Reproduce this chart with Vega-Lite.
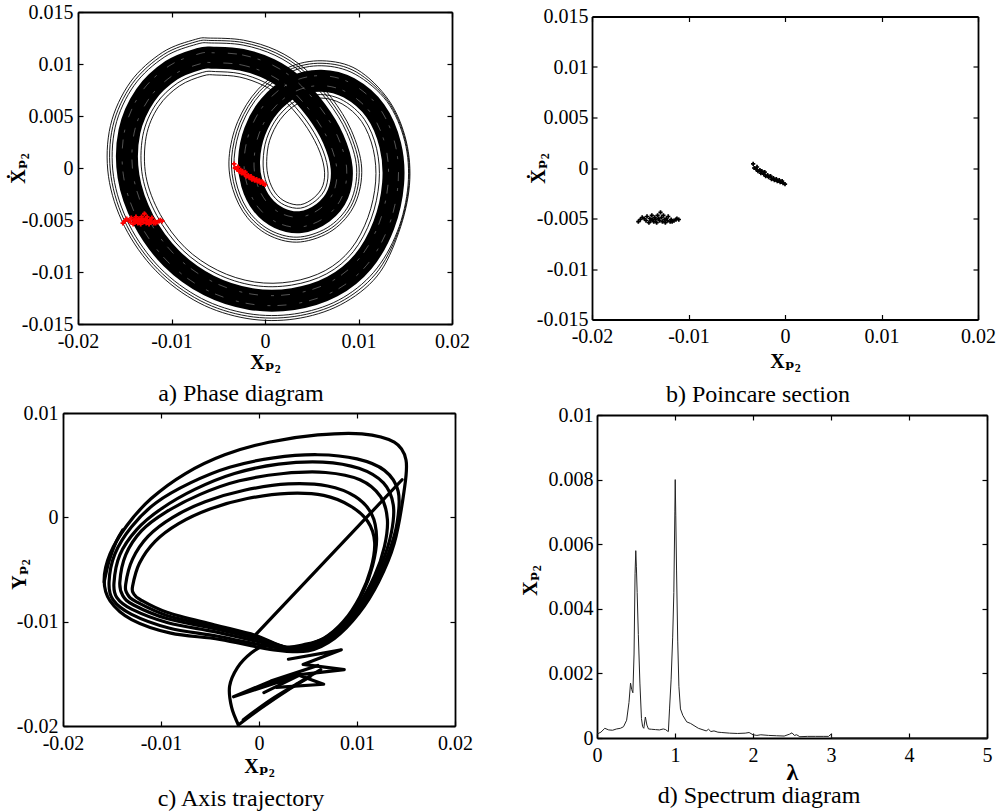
{
  "$schema": "https://vega.github.io/schema/vega-lite/v6.json",
  "autosize": {"type": "none"},
  "padding": {"left": 63, "top": 12, "right": 943, "bottom": 799},
  "background": "white",
  "bounds": "full",
  "spacing": -4,
  "config": {
    "font": "Liberation Serif",
    "view": {"stroke": null},
    "axis": {
      "grid": false,
      "domainColor": "#000",
      "domainWidth": 1.8,
      "tickColor": "#000",
      "tickWidth": 1.2,
      "tickSize": -5,
      "labelFont": "Liberation Serif",
      "labelFontSize": 20,
      "labelColor": "#000",
      "labelFlush": false,
      "labelOverlap": false,
      "labelBound": false,
      "labelPadding": 12,
      "titleFont": "Liberation Serif, DejaVu Serif",
      "titleFontSize": 20,
      "titleFontWeight": "bold",
      "titleColor": "#000"
    },
    "title": {"font": "Liberation Serif", "fontSize": 24, "fontWeight": "normal", "color": "#000"}
  },
  "datasets": {
    "phase": [
      {"s":"core","i":1,"x":-0.0055,"y":0.0106},{"s":"core","i":2,"x":-0.0025,"y":0.0104},{"s":"core","i":3,"x":0.0005,"y":0.0095},{"s":"core","i":4,"x":0.003,"y":0.008},{"s":"core","i":5,"x":0.0055,"y":0.0055},{"s":"core","i":6,"x":0.0073,"y":0.0028},{"s":"core","i":7,"x":0.0082,"y":0},{"s":"core","i":8,"x":0.0078,"y":-0.0025},{"s":"core","i":9,"x":0.0062,"y":-0.0043},{"s":"core","i":10,"x":0.0038,"y":-0.0052},{"s":"core","i":11,"x":0.0015,"y":-0.0048},{"s":"core","i":12,"x":-0.0003,"y":-0.0035},{"s":"core","i":13,"x":-0.0014,"y":-0.0015},{"s":"core","i":14,"x":-0.0017,"y":0.0008},{"s":"core","i":15,"x":-0.0011,"y":0.0035},{"s":"core","i":16,"x":0.0005,"y":0.006},{"s":"core","i":17,"x":0.003,"y":0.0078},{"s":"core","i":18,"x":0.006,"y":0.0084},{"s":"core","i":19,"x":0.009,"y":0.0077},{"s":"core","i":20,"x":0.0118,"y":0.0055},{"s":"core","i":21,"x":0.0134,"y":0.0022},{"s":"core","i":22,"x":0.0137,"y":-0.0015},{"s":"core","i":23,"x":0.0127,"y":-0.0055},{"s":"core","i":24,"x":0.0105,"y":-0.009},{"s":"core","i":25,"x":0.0072,"y":-0.0114},{"s":"core","i":26,"x":0.003,"y":-0.0126},{"s":"core","i":27,"x":-0.0015,"y":-0.0126},{"s":"core","i":28,"x":-0.006,"y":-0.0113},{"s":"core","i":29,"x":-0.01,"y":-0.0087},{"s":"core","i":30,"x":-0.013,"y":-0.005},{"s":"core","i":31,"x":-0.0146,"y":-0.0008},{"s":"core","i":32,"x":-0.0145,"y":0.0035},{"s":"core","i":33,"x":-0.0128,"y":0.007},{"s":"core","i":34,"x":-0.01,"y":0.0094},{"s":"core","i":35,"x":-0.007,"y":0.0105},
      {"s":"o1","i":1,"x":-0.00574,"y":0.01202},{"s":"o1","i":2,"x":-0.00234,"y":0.01182},{"s":"o1","i":3,"x":0.00106,"y":0.01084},{"s":"o1","i":4,"x":0.00396,"y":0.00914},{"s":"o1","i":5,"x":0.0067,"y":0.00644},{"s":"o1","i":6,"x":0.00874,"y":0.00341},{"s":"o1","i":7,"x":0.0098,"y":0},{"s":"o1","i":8,"x":0.00916,"y":-0.00322},{"s":"o1","i":9,"x":0.007,"y":-0.00554},{"s":"o1","i":10,"x":0.0038,"y":-0.00663},{"s":"o1","i":11,"x":0.00086,"y":-0.00612},{"s":"o1","i":12,"x":-0.0015,"y":-0.00444},{"s":"o1","i":13,"x":-0.00292,"y":-0.00193},{"s":"o1","i":14,"x":-0.0033,"y":0.00094},{"s":"o1","i":15,"x":-0.00246,"y":0.00422},{"s":"o1","i":16,"x":-0.00046,"y":0.00714},{"s":"o1","i":17,"x":0.0026,"y":0.00919},{"s":"o1","i":18,"x":0.00608,"y":0.00983},{"s":"o1","i":19,"x":0.00964,"y":0.00902},{"s":"o1","i":20,"x":0.01305,"y":0.00639},{"s":"o1","i":21,"x":0.01495,"y":0.00256},{"s":"o1","i":22,"x":0.0153,"y":-0.00164},{"s":"o1","i":23,"x":0.01414,"y":-0.00614},{"s":"o1","i":24,"x":0.01162,"y":-0.01003},{"s":"o1","i":25,"x":0.00784,"y":-0.01272},{"s":"o1","i":26,"x":0.00316,"y":-0.01403},{"s":"o1","i":27,"x":-0.00182,"y":-0.014},{"s":"o1","i":28,"x":-0.0068,"y":-0.01254},{"s":"o1","i":29,"x":-0.01125,"y":-0.00959},{"s":"o1","i":30,"x":-0.01452,"y":-0.00546},{"s":"o1","i":31,"x":-0.0162,"y":-0.0008},{"s":"o1","i":32,"x":-0.01602,"y":0.00393},{"s":"o1","i":33,"x":-0.014,"y":0.00794},{"s":"o1","i":34,"x":-0.01072,"y":0.01069},{"s":"o1","i":35,"x":-0.00732,"y":0.0119},
      {"s":"m","i":1,"x":-0.00578,"y":0.01226},{"s":"m","i":2,"x":-0.00232,"y":0.01206},{"s":"m","i":3,"x":0.00116,"y":0.01107},{"s":"m","i":4,"x":0.00412,"y":0.00934},{"s":"m","i":5,"x":0.0069,"y":0.0066},{"s":"m","i":6,"x":0.00899,"y":0.00352},{"s":"m","i":7,"x":0.01007,"y":0},{"s":"m","i":8,"x":0.00939,"y":-0.00334},{"s":"m","i":9,"x":0.00714,"y":-0.00575},{"s":"m","i":10,"x":0.0038,"y":-0.00687},{"s":"m","i":11,"x":0.00075,"y":-0.00634},{"s":"m","i":12,"x":-0.0017,"y":-0.0046},{"s":"m","i":13,"x":-0.00318,"y":-0.002},{"s":"m","i":14,"x":-0.00357,"y":0.00097},{"s":"m","i":15,"x":-0.00269,"y":0.00434},{"s":"m","i":16,"x":-0.00062,"y":0.00734},{"s":"m","i":17,"x":0.00253,"y":0.00942},{"s":"m","i":18,"x":0.0061,"y":0.01007},{"s":"m","i":19,"x":0.00975,"y":0.00924},{"s":"m","i":20,"x":0.01315,"y":0.00645},{"s":"m","i":21,"x":0.01503,"y":0.00258},{"s":"m","i":22,"x":0.01538,"y":-0.00165},{"s":"m","i":23,"x":0.01422,"y":-0.00617},{"s":"m","i":24,"x":0.01181,"y":-0.0102},{"s":"m","i":25,"x":0.00795,"y":-0.01294},{"s":"m","i":26,"x":0.00319,"y":-0.01427},{"s":"m","i":27,"x":-0.00188,"y":-0.01424},{"s":"m","i":28,"x":-0.00694,"y":-0.01275},{"s":"m","i":29,"x":-0.01146,"y":-0.00974},{"s":"m","i":30,"x":-0.01478,"y":-0.00554},{"s":"m","i":31,"x":-0.01647,"y":-0.0008},{"s":"m","i":32,"x":-0.01628,"y":0.004},{"s":"m","i":33,"x":-0.0142,"y":0.0081},{"s":"m","i":34,"x":-0.01084,"y":0.01091},{"s":"m","i":35,"x":-0.00738,"y":0.01214},
      {"s":"o2","i":1,"x":-0.00582,"y":0.01249},{"s":"o2","i":2,"x":-0.00229,"y":0.01229},{"s":"o2","i":3,"x":0.00125,"y":0.0113},{"s":"o2","i":4,"x":0.00428,"y":0.00953},{"s":"o2","i":5,"x":0.0071,"y":0.00676},{"s":"o2","i":6,"x":0.00923,"y":0.00362},{"s":"o2","i":7,"x":0.01034,"y":0},{"s":"o2","i":8,"x":0.00962,"y":-0.00346},{"s":"o2","i":9,"x":0.00727,"y":-0.00596},{"s":"o2","i":10,"x":0.0038,"y":-0.00711},{"s":"o2","i":11,"x":0.00064,"y":-0.00656},{"s":"o2","i":12,"x":-0.0019,"y":-0.00476},{"s":"o2","i":13,"x":-0.00343,"y":-0.00207},{"s":"o2","i":14,"x":-0.00384,"y":0.00099},{"s":"o2","i":15,"x":-0.00292,"y":0.00446},{"s":"o2","i":16,"x":-0.00078,"y":0.00753},{"s":"o2","i":17,"x":0.00246,"y":0.00965},{"s":"o2","i":18,"x":0.00611,"y":0.01031},{"s":"o2","i":19,"x":0.00986,"y":0.00946},{"s":"o2","i":20,"x":0.01325,"y":0.0065},{"s":"o2","i":21,"x":0.0151,"y":0.0026},{"s":"o2","i":22,"x":0.01545,"y":-0.00166},{"s":"o2","i":23,"x":0.0143,"y":-0.0062},{"s":"o2","i":24,"x":0.012,"y":-0.01038},{"s":"o2","i":25,"x":0.00806,"y":-0.01316},{"s":"o2","i":26,"x":0.00321,"y":-0.01451},{"s":"o2","i":27,"x":-0.00193,"y":-0.01447},{"s":"o2","i":28,"x":-0.00707,"y":-0.01296},{"s":"o2","i":29,"x":-0.01167,"y":-0.00988},{"s":"o2","i":30,"x":-0.01503,"y":-0.00561},{"s":"o2","i":31,"x":-0.01674,"y":-0.0008},{"s":"o2","i":32,"x":-0.01653,"y":0.00407},{"s":"o2","i":33,"x":-0.0144,"y":0.00826},{"s":"o2","i":34,"x":-0.01096,"y":0.01112},{"s":"o2","i":35,"x":-0.00743,"y":0.01237},
      {"s":"i1","i":1,"x":-0.00528,"y":0.00927},{"s":"i1","i":2,"x":-0.00265,"y":0.00907},{"s":"i1","i":3,"x":-0.00003,"y":0.00824},{"s":"i1","i":4,"x":0.0021,"y":0.00693},{"s":"i1","i":5,"x":0.00437,"y":0.00462},{"s":"i1","i":6,"x":0.00595,"y":0.00222},{"s":"i1","i":7,"x":0.0067,"y":0},{"s":"i1","i":8,"x":0.00652,"y":-0.00183},{"s":"i1","i":9,"x":0.00545,"y":-0.00313},{"s":"i1","i":10,"x":0.0038,"y":-0.00386},{"s":"i1","i":11,"x":0.0021,"y":-0.00357},{"s":"i1","i":12,"x":0.00083,"y":-0.00262},{"s":"i1","i":13,"x":0.00003,"y":-0.0011},{"s":"i1","i":14,"x":-0.0002,"y":0.00067},{"s":"i1","i":15,"x":0.00018,"y":0.00283},{"s":"i1","i":16,"x":0.0014,"y":0.00493},{"s":"i1","i":17,"x":0.00338,"y":0.0065},{"s":"i1","i":18,"x":0.00592,"y":0.00706},{"s":"i1","i":19,"x":0.0084,"y":0.00647},{"s":"i1","i":20,"x":0.01063,"y":0.00467},{"s":"i1","i":21,"x":0.01194,"y":0.00186},{"s":"i1","i":22,"x":0.0122,"y":-0.00137},{"s":"i1","i":23,"x":0.01135,"y":-0.0049},{"s":"i1","i":24,"x":0.00945,"y":-0.00804},{"s":"i1","i":25,"x":0.0066,"y":-0.01017},{"s":"i1","i":26,"x":0.00285,"y":-0.01126},{"s":"i1","i":27,"x":-0.0012,"y":-0.01129},{"s":"i1","i":28,"x":-0.00525,"y":-0.01013},{"s":"i1","i":29,"x":-0.00883,"y":-0.00787},{"s":"i1","i":30,"x":-0.01157,"y":-0.00457},{"s":"i1","i":31,"x":-0.0131,"y":-0.0008},{"s":"i1","i":32,"x":-0.01307,"y":0.0031},{"s":"i1","i":33,"x":-0.01167,"y":0.00612},{"s":"i1","i":34,"x":-0.00932,"y":0.00819},{"s":"i1","i":35,"x":-0.0067,"y":0.00919},
      {"s":"i2","i":1,"x":-0.00523,"y":0.00894},{"s":"i2","i":2,"x":-0.00269,"y":0.00874},{"s":"i2","i":3,"x":-0.00016,"y":0.00793},{"s":"i2","i":4,"x":0.00188,"y":0.00666},{"s":"i2","i":5,"x":0.00409,"y":0.0044},{"s":"i2","i":6,"x":0.00561,"y":0.00208},{"s":"i2","i":7,"x":0.00633,"y":0},{"s":"i2","i":8,"x":0.0062,"y":-0.00166},{"s":"i2","i":9,"x":0.00526,"y":-0.00284},{"s":"i2","i":10,"x":0.0038,"y":-0.00353},{"s":"i2","i":11,"x":0.00225,"y":-0.00326},{"s":"i2","i":12,"x":0.00111,"y":-0.0024},{"s":"i2","i":13,"x":0.00039,"y":-0.001},{"s":"i2","i":14,"x":0.00018,"y":0.00064},{"s":"i2","i":15,"x":0.0005,"y":0.00266},{"s":"i2","i":16,"x":0.00163,"y":0.00466},{"s":"i2","i":17,"x":0.00348,"y":0.00618},{"s":"i2","i":18,"x":0.0059,"y":0.00673},{"s":"i2","i":19,"x":0.00825,"y":0.00616},{"s":"i2","i":20,"x":0.01034,"y":0.00446},{"s":"i2","i":21,"x":0.01158,"y":0.00178},{"s":"i2","i":22,"x":0.01183,"y":-0.00134},{"s":"i2","i":23,"x":0.01101,"y":-0.00475},{"s":"i2","i":24,"x":0.00919,"y":-0.0078},{"s":"i2","i":25,"x":0.00645,"y":-0.00986},{"s":"i2","i":26,"x":0.00281,"y":-0.01093},{"s":"i2","i":27,"x":-0.00113,"y":-0.01096},{"s":"i2","i":28,"x":-0.00506,"y":-0.00984},{"s":"i2","i":29,"x":-0.00854,"y":-0.00766},{"s":"i2","i":30,"x":-0.01121,"y":-0.00446},{"s":"i2","i":31,"x":-0.01273,"y":-0.0008},{"s":"i2","i":32,"x":-0.01271,"y":0.003},{"s":"i2","i":33,"x":-0.01139,"y":0.0059},{"s":"i2","i":34,"x":-0.00915,"y":0.00789},{"s":"i2","i":35,"x":-0.00663,"y":0.00886},
      {"s":"w1","i":1,"x":-0.00558,"y":0.01108},{"s":"w1","i":2,"x":-0.00245,"y":0.01088},{"s":"w1","i":3,"x":0.00069,"y":0.00995},{"s":"w1","i":4,"x":0.00332,"y":0.00838},{"s":"w1","i":5,"x":0.0059,"y":0.00582},{"s":"w1","i":6,"x":0.00778,"y":0.00301},{"s":"w1","i":7,"x":0.00873,"y":0},{"s":"w1","i":8,"x":0.00825,"y":-0.00274},{"s":"w1","i":9,"x":0.00647,"y":-0.00472},{"s":"w1","i":10,"x":0.0038,"y":-0.00568},{"s":"w1","i":11,"x":0.00129,"y":-0.00524},{"s":"w1","i":12,"x":-0.0007,"y":-0.00382},{"s":"w1","i":13,"x":-0.0019,"y":-0.00164},{"s":"w1","i":14,"x":-0.00223,"y":0.00085},{"s":"w1","i":15,"x":-0.00155,"y":0.00374},{"s":"w1","i":16,"x":0.00018,"y":0.00638},{"s":"w1","i":17,"x":0.00287,"y":0.00827},{"s":"w1","i":18,"x":0.00603,"y":0.00888},{"s":"w1","i":19,"x":0.00921,"y":0.00814},{"s":"w1","i":20,"x":0.01221,"y":0.0058},{"s":"w1","i":21,"x":0.01391,"y":0.00232},{"s":"w1","i":22,"x":0.01423,"y":-0.00155},{"s":"w1","i":23,"x":0.01318,"y":-0.00572},{"s":"w1","i":24,"x":0.01087,"y":-0.00935},{"s":"w1","i":25,"x":0.00741,"y":-0.01184},{"s":"w1","i":26,"x":0.00305,"y":-0.01308},{"s":"w1","i":27,"x":-0.00161,"y":-0.01307},{"s":"w1","i":28,"x":-0.00627,"y":-0.01172},{"s":"w1","i":29,"x":-0.01041,"y":-0.009},{"s":"w1","i":30,"x":-0.0135,"y":-0.00515},{"s":"w1","i":31,"x":-0.01513,"y":-0.0008},{"s":"w1","i":32,"x":-0.015,"y":0.00364},{"s":"w1","i":33,"x":-0.0132,"y":0.00732},{"s":"w1","i":34,"x":-0.01024,"y":0.00983},{"s":"w1","i":35,"x":-0.00711,"y":0.01097},
      {"s":"w2","i":1,"x":-0.00542,"y":0.01012},{"s":"w2","i":2,"x":-0.00255,"y":0.00992},{"s":"w2","i":3,"x":0.00031,"y":0.00905},{"s":"w2","i":4,"x":0.00268,"y":0.00762},{"s":"w2","i":5,"x":0.0051,"y":0.00518},{"s":"w2","i":6,"x":0.00682,"y":0.00259},{"s":"w2","i":7,"x":0.00767,"y":0},{"s":"w2","i":8,"x":0.00735,"y":-0.00226},{"s":"w2","i":9,"x":0.00593,"y":-0.00388},{"s":"w2","i":10,"x":0.0038,"y":-0.00472},{"s":"w2","i":11,"x":0.00171,"y":-0.00436},{"s":"w2","i":12,"x":0.0001,"y":-0.00318},{"s":"w2","i":13,"x":-0.0009,"y":-0.00136},{"s":"w2","i":14,"x":-0.00117,"y":0.00075},{"s":"w2","i":15,"x":-0.00065,"y":0.00326},{"s":"w2","i":16,"x":0.00082,"y":0.00562},{"s":"w2","i":17,"x":0.00313,"y":0.00733},{"s":"w2","i":18,"x":0.00597,"y":0.00792},{"s":"w2","i":19,"x":0.00879,"y":0.00726},{"s":"w2","i":20,"x":0.01139,"y":0.0052},{"s":"w2","i":21,"x":0.01289,"y":0.00208},{"s":"w2","i":22,"x":0.01317,"y":-0.00145},{"s":"w2","i":23,"x":0.01222,"y":-0.00528},{"s":"w2","i":24,"x":0.01013,"y":-0.00865},{"s":"w2","i":25,"x":0.00699,"y":-0.01096},{"s":"w2","i":26,"x":0.00295,"y":-0.01212},{"s":"w2","i":27,"x":-0.00139,"y":-0.01213},{"s":"w2","i":28,"x":-0.00573,"y":-0.01088},{"s":"w2","i":29,"x":-0.00959,"y":-0.0084},{"s":"w2","i":30,"x":-0.0125,"y":-0.00485},{"s":"w2","i":31,"x":-0.01407,"y":-0.0008},{"s":"w2","i":32,"x":-0.014,"y":0.00336},{"s":"w2","i":33,"x":-0.0124,"y":0.00668},{"s":"w2","i":34,"x":-0.00976,"y":0.00897},{"s":"w2","i":35,"x":-0.00689,"y":0.01003}
    ],
    "poincare": [
      {"x":-0.0152,"y":-0.0053},{"x":-0.015,"y":-0.0051},{"x":-0.0148,"y":-0.0049},{"x":-0.0146,"y":-0.005},{"x":-0.0144,"y":-0.0052},{"x":-0.0143,"y":-0.0048},{"x":-0.0141,"y":-0.0054},{"x":-0.014,"y":-0.005},{"x":-0.0139,"y":-0.0052},{"x":-0.0138,"y":-0.0047},{"x":-0.0137,"y":-0.0051},{"x":-0.0136,"y":-0.0053},{"x":-0.0135,"y":-0.0049},{"x":-0.0134,"y":-0.0051},{"x":-0.0133,"y":-0.0054},{"x":-0.0132,"y":-0.0047},{"x":-0.0131,"y":-0.005},{"x":-0.013,"y":-0.0052},{"x":-0.0129,"y":-0.0044},{"x":-0.0128,"y":-0.0049},{"x":-0.0127,"y":-0.0053},{"x":-0.0126,"y":-0.0047},{"x":-0.0125,"y":-0.0051},{"x":-0.0124,"y":-0.0054},{"x":-0.0123,"y":-0.005},{"x":-0.0122,"y":-0.0052},{"x":-0.0121,"y":-0.0048},{"x":-0.0119,"y":-0.0053},{"x":-0.0118,"y":-0.0051},{"x":-0.0117,"y":-0.0053},{"x":-0.0115,"y":-0.0052},{"x":-0.0113,"y":-0.0051},{"x":-0.0112,"y":-0.005},{"x":-0.011,"y":-0.0051},
      {"x":-0.0033,"y":0.0004},{"x":-0.0032,"y":0},{"x":-0.003,"y":-0.0001},{"x":-0.0029,"y":0.0001},{"x":-0.0028,"y":-0.0003},{"x":-0.0026,"y":-0.0002},{"x":-0.0025,"y":-0.0005},{"x":-0.0024,"y":-0.0003},{"x":-0.0022,"y":-0.0006},{"x":-0.0021,"y":-0.0004},{"x":-0.002,"y":-0.0008},{"x":-0.0018,"y":-0.0007},{"x":-0.0017,"y":-0.0009},{"x":-0.0015,"y":-0.0008},{"x":-0.0014,"y":-0.0011},{"x":-0.0012,"y":-0.001},{"x":-0.0011,"y":-0.0012},{"x":-0.0009,"y":-0.0011},{"x":-0.0008,"y":-0.0013},{"x":-0.0006,"y":-0.0012},{"x":-0.0005,"y":-0.0014},{"x":-0.0003,"y":-0.0013},{"x":-0.0002,"y":-0.0015},{"x":0,"y":-0.0016}
    ],
    "orbit": [
      {"s":"L1","i":1,"x":-0.0158,"y":-0.006},{"s":"L1","i":2,"x":-0.0152,"y":-0.0035},{"s":"L1","i":3,"x":-0.0135,"y":-0.0008},{"s":"L1","i":4,"x":-0.011,"y":0.0018},{"s":"L1","i":5,"x":-0.0075,"y":0.0042},{"s":"L1","i":6,"x":-0.0035,"y":0.006},{"s":"L1","i":7,"x":0.001,"y":0.0072},{"s":"L1","i":8,"x":0.006,"y":0.0079},{"s":"L1","i":9,"x":0.0105,"y":0.008},{"s":"L1","i":10,"x":0.0138,"y":0.0072},{"s":"L1","i":11,"x":0.015,"y":0.0055},{"s":"L1","i":12,"x":0.0148,"y":0.0025},{"s":"L1","i":13,"x":0.0138,"y":-0.0025},{"s":"L1","i":14,"x":0.0122,"y":-0.0062},{"s":"L1","i":15,"x":0.0102,"y":-0.0092},{"s":"L1","i":16,"x":0.0077,"y":-0.0116},{"s":"L1","i":17,"x":0.005,"y":-0.0128},{"s":"L1","i":18,"x":0.0015,"y":-0.0127},{"s":"L1","i":19,"x":-0.004,"y":-0.0117},{"s":"L1","i":20,"x":-0.009,"y":-0.0111},{"s":"L1","i":21,"x":-0.013,"y":-0.0098},{"s":"L1","i":22,"x":-0.0152,"y":-0.008},
      {"s":"L2","i":1,"x":-0.0153,"y":-0.0062},{"s":"L2","i":2,"x":-0.0147,"y":-0.0035},{"s":"L2","i":3,"x":-0.013,"y":-0.0009},{"s":"L2","i":4,"x":-0.0105,"y":0.0014},{"s":"L2","i":5,"x":-0.007,"y":0.0033},{"s":"L2","i":6,"x":-0.003,"y":0.0048},{"s":"L2","i":7,"x":0.0015,"y":0.0057},{"s":"L2","i":8,"x":0.006,"y":0.006},{"s":"L2","i":9,"x":0.01,"y":0.0056},{"s":"L2","i":10,"x":0.0128,"y":0.0045},{"s":"L2","i":11,"x":0.0142,"y":0.0025},{"s":"L2","i":12,"x":0.0141,"y":-0.0005},{"s":"L2","i":13,"x":0.0132,"y":-0.0035},{"s":"L2","i":14,"x":0.0116,"y":-0.0068},{"s":"L2","i":15,"x":0.0096,"y":-0.0096},{"s":"L2","i":16,"x":0.0072,"y":-0.0117},{"s":"L2","i":17,"x":0.0046,"y":-0.0127},{"s":"L2","i":18,"x":0.0012,"y":-0.0124},{"s":"L2","i":19,"x":-0.0042,"y":-0.0114},{"s":"L2","i":20,"x":-0.0092,"y":-0.0106},{"s":"L2","i":21,"x":-0.013,"y":-0.0093},{"s":"L2","i":22,"x":-0.0149,"y":-0.0079},
      {"s":"L3","i":1,"x":-0.0148,"y":-0.0063},{"s":"L3","i":2,"x":-0.0142,"y":-0.0036},{"s":"L3","i":3,"x":-0.0125,"y":-0.0012},{"s":"L3","i":4,"x":-0.01,"y":0.0008},{"s":"L3","i":5,"x":-0.0065,"y":0.0027},{"s":"L3","i":6,"x":-0.0025,"y":0.0042},{"s":"L3","i":7,"x":0.002,"y":0.0051},{"s":"L3","i":8,"x":0.0065,"y":0.0053},{"s":"L3","i":9,"x":0.0102,"y":0.0047},{"s":"L3","i":10,"x":0.0127,"y":0.0033},{"s":"L3","i":11,"x":0.0137,"y":0.0012},{"s":"L3","i":12,"x":0.0135,"y":-0.0015},{"s":"L3","i":13,"x":0.0125,"y":-0.0045},{"s":"L3","i":14,"x":0.0108,"y":-0.0077},{"s":"L3","i":15,"x":0.0088,"y":-0.0102},{"s":"L3","i":16,"x":0.0064,"y":-0.0121},{"s":"L3","i":17,"x":0.004,"y":-0.0127},{"s":"L3","i":18,"x":0.0008,"y":-0.0121},{"s":"L3","i":19,"x":-0.0043,"y":-0.011},{"s":"L3","i":20,"x":-0.0093,"y":-0.0101},{"s":"L3","i":21,"x":-0.013,"y":-0.0088},{"s":"L3","i":22,"x":-0.0145,"y":-0.0077},
      {"s":"L4","i":1,"x":-0.0142,"y":-0.0062},{"s":"L4","i":2,"x":-0.0136,"y":-0.0036},{"s":"L4","i":3,"x":-0.012,"y":-0.0013},{"s":"L4","i":4,"x":-0.0095,"y":0.0005},{"s":"L4","i":5,"x":-0.006,"y":0.0022},{"s":"L4","i":6,"x":-0.002,"y":0.0035},{"s":"L4","i":7,"x":0.0025,"y":0.0042},{"s":"L4","i":8,"x":0.0068,"y":0.0043},{"s":"L4","i":9,"x":0.0103,"y":0.0036},{"s":"L4","i":10,"x":0.0124,"y":0.002},{"s":"L4","i":11,"x":0.0131,"y":-0.0002},{"s":"L4","i":12,"x":0.0128,"y":-0.0028},{"s":"L4","i":13,"x":0.0118,"y":-0.0056},{"s":"L4","i":14,"x":0.0101,"y":-0.0085},{"s":"L4","i":15,"x":0.008,"y":-0.0108},{"s":"L4","i":16,"x":0.0057,"y":-0.0122},{"s":"L4","i":17,"x":0.0034,"y":-0.0126},{"s":"L4","i":18,"x":0.0004,"y":-0.0118},{"s":"L4","i":19,"x":-0.0044,"y":-0.0107},{"s":"L4","i":20,"x":-0.0094,"y":-0.0097},{"s":"L4","i":21,"x":-0.0128,"y":-0.0084},{"s":"L4","i":22,"x":-0.0139,"y":-0.0075},
      {"s":"L5","i":1,"x":-0.0136,"y":-0.0064},{"s":"L5","i":2,"x":-0.0129,"y":-0.004},{"s":"L5","i":3,"x":-0.0113,"y":-0.0018},{"s":"L5","i":4,"x":-0.0088,"y":0},{"s":"L5","i":5,"x":-0.0055,"y":0.0015},{"s":"L5","i":6,"x":-0.0015,"y":0.0026},{"s":"L5","i":7,"x":0.003,"y":0.0032},{"s":"L5","i":8,"x":0.007,"y":0.003},{"s":"L5","i":9,"x":0.0098,"y":0.002},{"s":"L5","i":10,"x":0.0115,"y":0.0003},{"s":"L5","i":11,"x":0.012,"y":-0.002},{"s":"L5","i":12,"x":0.0116,"y":-0.0046},{"s":"L5","i":13,"x":0.0106,"y":-0.0072},{"s":"L5","i":14,"x":0.009,"y":-0.0097},{"s":"L5","i":15,"x":0.007,"y":-0.0114},{"s":"L5","i":16,"x":0.005,"y":-0.0122},{"s":"L5","i":17,"x":0.003,"y":-0.0125},{"s":"L5","i":18,"x":0,"y":-0.0116},{"s":"L5","i":19,"x":-0.0045,"y":-0.0105},{"s":"L5","i":20,"x":-0.0094,"y":-0.0094},{"s":"L5","i":21,"x":-0.0125,"y":-0.0081},{"s":"L5","i":22,"x":-0.0134,"y":-0.0074},
      {"s":"L6","i":1,"x":-0.0129,"y":-0.0066},{"s":"L6","i":2,"x":-0.0122,"y":-0.0044},{"s":"L6","i":3,"x":-0.0106,"y":-0.0023},{"s":"L6","i":4,"x":-0.0082,"y":-0.0006},{"s":"L6","i":5,"x":-0.005,"y":0.0008},{"s":"L6","i":6,"x":-0.0012,"y":0.0018},{"s":"L6","i":7,"x":0.003,"y":0.0023},{"s":"L6","i":8,"x":0.0066,"y":0.0021},{"s":"L6","i":9,"x":0.0093,"y":0.0011},{"s":"L6","i":10,"x":0.0111,"y":-0.0004},{"s":"L6","i":11,"x":0.0118,"y":-0.0024},{"s":"L6","i":12,"x":0.0114,"y":-0.005},{"s":"L6","i":13,"x":0.0103,"y":-0.0076},{"s":"L6","i":14,"x":0.0086,"y":-0.01},{"s":"L6","i":15,"x":0.0066,"y":-0.0116},{"s":"L6","i":16,"x":0.0046,"y":-0.0122},{"s":"L6","i":17,"x":0.0026,"y":-0.0124},{"s":"L6","i":18,"x":-0.0004,"y":-0.0113},{"s":"L6","i":19,"x":-0.0046,"y":-0.0103},{"s":"L6","i":20,"x":-0.0094,"y":-0.0091},{"s":"L6","i":21,"x":-0.0121,"y":-0.0079},{"s":"L6","i":22,"x":-0.0128,"y":-0.0073},
      {"s":"S","i":1,"x":-0.0139,"y":-0.0012},{"s":"S","i":2,"x":-0.0146,"y":-0.0024},{"s":"S","i":3,"x":-0.0153,"y":-0.0042},{"s":"S","i":4,"x":-0.0158,"y":-0.0062},
      {"s":"D","i":1,"x":0.0146,"y":0.0036},{"s":"D","i":2,"x":-0.0008,"y":-0.0117},
      {"s":"N1","i":1,"x":0.001,"y":-0.012},{"s":"N1","i":2,"x":-0.0008,"y":-0.013},{"s":"N1","i":3,"x":-0.0022,"y":-0.0144},{"s":"N1","i":4,"x":-0.003,"y":-0.0162},{"s":"N1","i":5,"x":-0.0028,"y":-0.0182},{"s":"N1","i":6,"x":-0.0021,"y":-0.0199},
      {"s":"N2","i":1,"x":-0.0021,"y":-0.0199},{"s":"N2","i":2,"x":0.0002,"y":-0.0183},{"s":"N2","i":3,"x":0.0027,"y":-0.0167},{"s":"N2","i":4,"x":0.0052,"y":-0.0153},
      {"s":"N3","i":1,"x":-0.0016,"y":-0.0194},{"s":"N3","i":2,"x":0.0012,"y":-0.0175},{"s":"N3","i":3,"x":0.004,"y":-0.0159},{"s":"N3","i":4,"x":0.0063,"y":-0.0146},
      {"s":"Z1","i":1,"x":0.0005,"y":-0.0168},{"s":"Z1","i":2,"x":0.0042,"y":-0.0151},{"s":"Z1","i":3,"x":-0.0026,"y":-0.0172},{"s":"Z1","i":4,"x":0.0012,"y":-0.0157},{"s":"Z1","i":5,"x":0.006,"y":-0.0142},
      {"s":"Z2","i":1,"x":0.003,"y":-0.0136},{"s":"Z2","i":2,"x":0.0084,"y":-0.0127},{"s":"Z2","i":3,"x":0.0045,"y":-0.0141},{"s":"Z2","i":4,"x":0.0087,"y":-0.0146},{"s":"Z2","i":5,"x":0.004,"y":-0.0151},{"s":"Z2","i":6,"x":0.0066,"y":-0.016},{"s":"Z2","i":7,"x":0.0018,"y":-0.0163}
    ],
    "spectrum": [
      {"f":0,"a":0.00012},{"f":0.05,"a":0.00018},{"f":0.1,"a":0.0003},{"f":0.15,"a":0.00025},{"f":0.2,"a":0.00024},{"f":0.25,"a":0.00028},{"f":0.3,"a":0.0003},{"f":0.34,"a":0.00035},{"f":0.38,"a":0.00055},{"f":0.41,"a":0.0011},{"f":0.43,"a":0.0017},{"f":0.445,"a":0.0015},{"f":0.46,"a":0.0014},{"f":0.475,"a":0.0026},{"f":0.488,"a":0.0051},{"f":0.497,"a":0.0058},{"f":0.505,"a":0.0053},{"f":0.515,"a":0.0045},{"f":0.53,"a":0.0032},{"f":0.55,"a":0.0017},{"f":0.57,"a":0.0006},{"f":0.585,"a":0.00035},{"f":0.6,"a":0.0003},{"f":0.62,"a":0.00065},{"f":0.64,"a":0.0004},{"f":0.66,"a":0.00028},{"f":0.7,"a":0.00027},{"f":0.75,"a":0.00026},{"f":0.8,"a":0.00025},{"f":0.85,"a":0.00028},{"f":0.88,"a":0.00026},{"f":0.9,"a":0.00022},{"f":0.915,"a":0.0002},{"f":0.93,"a":0.0009},{"f":0.95,"a":0.0018},{"f":0.97,"a":0.0031},{"f":0.985,"a":0.0045},{"f":0.998,"a":0.007},{"f":1.003,"a":0.008},{"f":1.01,"a":0.0069},{"f":1.02,"a":0.0052},{"f":1.035,"a":0.003},{"f":1.05,"a":0.0016},{"f":1.07,"a":0.0009},{"f":1.1,"a":0.0007},{"f":1.15,"a":0.0005},{"f":1.2,"a":0.00045},{"f":1.3,"a":0.0003},{"f":1.4,"a":0.00022},{"f":1.43,"a":0.00027},{"f":1.46,"a":0.0002},{"f":1.5,"a":0.00022},{"f":1.55,"a":0.00018},{"f":1.6,"a":0.00017},{"f":1.7,"a":0.00015},{"f":1.8,"a":0.00014},{"f":1.9,"a":0.00015},{"f":1.95,"a":0.00017},{"f":2,"a":0.0001},{"f":2.05,"a":0.00008},{"f":2.1,"a":0.0001},{"f":2.2,"a":0.00008},{"f":2.3,"a":0.00007},{"f":2.4,"a":0.00006},{"f":2.47,"a":0.00012},{"f":2.5,"a":0.00016},{"f":2.53,"a":0.00008},{"f":2.56,"a":0.0001},{"f":2.6,"a":0.00004},{"f":2.7,"a":0.00005},{"f":2.8,"a":0.00005},{"f":2.9,"a":0.00005},{"f":2.97,"a":0.00005},{"f":2.99,"a":0.0001},{"f":3,"a":0.00012},{"f":3.01,"a":0},{"f":5,"a":0}
    ]
  },
  "vconcat": [
    {
      "bounds": "flush",
      "spacing": 0,
      "hconcat": [
        {"width": 15, "height": 1, "data": {"values": [{"k": 0}]}, "mark": {"type": "point", "opacity": 0}},
        {
          "bounds": "flush",
          "spacing": 140,
          "center": true,
          "hconcat": [
            {
              "width": 374,
              "height": 312,
              "title": {"text": "a) Phase diagram", "orient": "bottom", "anchor": "middle", "frame": "group", "offset": 29, "dx": -24, "baseline": "alphabetic"},
              "layer": [
                {
                  "layer": [
                    {
                      "data": {"name": "phase"},
                      "transform": [{"filter": {"field": "s", "equal": "core"}}],
                      "mark": {"type": "line", "interpolate": "cardinal-closed", "strokeWidth": 22, "color": "#000", "strokeJoin": "round"},
                      "encoding": {
                        "x": {"field": "x", "type": "quantitative", "scale": {"domain": [-0.02, 0.02], "nice": false, "zero": false},
                              "axis": {"orient": "bottom", "values": [-0.02, -0.01, 0, 0.01, 0.02], "labelExpr": "replace(format(datum.value, '~g'), '−', '-')", "title": "Xₚ₂", "titleY": 44, "titleBaseline": "alphabetic"}},
                        "y": {"field": "y", "type": "quantitative", "scale": {"domain": [-0.015, 0.015], "nice": false, "zero": false},
                              "axis": {"orient": "left", "values": [-0.015, -0.01, -0.005, 0, 0.005, 0.01, 0.015], "labelExpr": "replace(format(datum.value, '~g'), '−', '-')", "labelPadding": 10, "title": "Ẋₚ₂", "titleX": -54, "titleBaseline": "alphabetic", "titleAngle": 270}},
                        "order": {"field": "i"}
                      }
                    },
                    {
                      "data": {"name": "phase"},
                      "transform": [{"filter": {"field": "s", "oneOf": ["o1", "m", "o2", "i1", "i2"]}}],
                      "mark": {"type": "line", "interpolate": "cardinal-closed", "strokeWidth": 0.9, "color": "#000"},
                      "encoding": {"x": {"field": "x", "type": "quantitative"}, "y": {"field": "y", "type": "quantitative"}, "detail": {"field": "s"}, "order": {"field": "i"}}
                    },
                    {
                      "data": {"name": "phase"},
                      "transform": [{"filter": {"field": "s", "oneOf": ["w1", "w2"]}}],
                      "mark": {"type": "line", "interpolate": "cardinal-closed", "strokeWidth": 0.6, "color": "#fff", "opacity": 0.55, "strokeDash": [9, 7, 3, 13]},
                      "encoding": {"x": {"field": "x", "type": "quantitative"}, "y": {"field": "y", "type": "quantitative"}, "detail": {"field": "s"}, "order": {"field": "i"}}
                    },
                    {
                      "data": {"name": "poincare"},
                      "mark": {"type": "point", "shape": "cross", "size": 22, "filled": true, "color": "#ff0000", "opacity": 1},
                      "encoding": {"x": {"field": "x", "type": "quantitative"}, "y": {"field": "y", "type": "quantitative"}}
                    }
                  ]
                },
                {
                  "data": {"values": [{"x": 0, "y": 0}]},
                  "mark": {"type": "point", "opacity": 0},
                  "encoding": {
                    "x": {"field": "x", "type": "quantitative", "scale": {"domain": [-0.02, 0.02], "nice": false, "zero": false}, "axis": {"orient": "top", "values": [-0.02, -0.01, 0, 0.01, 0.02], "labels": false, "title": null}},
                    "y": {"field": "y", "type": "quantitative", "scale": {"domain": [-0.015, 0.015], "nice": false, "zero": false}, "axis": {"orient": "right", "values": [-0.015, -0.01, -0.005, 0, 0.005, 0.01, 0.015], "labels": false, "title": null}}
                  }
                }
              ],
              "resolve": {"axis": {"x": "independent", "y": "independent"}}
            },
            {
              "width": 386,
              "height": 303,
              "title": {"text": "b) Poincare section", "orient": "bottom", "anchor": "middle", "frame": "group", "offset": 30, "dx": -27, "baseline": "alphabetic"},
              "layer": [
                {
                  "data": {"name": "poincare"},
                  "mark": {"type": "point", "shape": "cross", "size": 18, "filled": true, "color": "#000", "opacity": 1},
                  "encoding": {
                    "x": {"field": "x", "type": "quantitative", "scale": {"domain": [-0.02, 0.02], "nice": false, "zero": false},
                          "axis": {"orient": "bottom", "values": [-0.02, -0.01, 0, 0.01, 0.02], "labelExpr": "replace(format(datum.value, '~g'), '−', '-')", "title": "Xₚ₂", "titleY": 48, "titleBaseline": "alphabetic"}},
                    "y": {"field": "y", "type": "quantitative", "scale": {"domain": [-0.015, 0.015], "nice": false, "zero": false},
                          "axis": {"orient": "left", "values": [-0.015, -0.01, -0.005, 0, 0.005, 0.01, 0.015], "labelExpr": "replace(format(datum.value, '~g'), '−', '-')", "labelPadding": 9, "title": "Ẋₚ₂", "titleX": -48, "titleBaseline": "alphabetic", "titleAngle": 270}}
                  }
                },
                {
                  "data": {"values": [{"x": 0, "y": 0}]},
                  "mark": {"type": "point", "opacity": 0},
                  "encoding": {
                    "x": {"field": "x", "type": "quantitative", "scale": {"domain": [-0.02, 0.02], "nice": false, "zero": false}, "axis": {"orient": "top", "values": [-0.02, -0.01, 0, 0.01, 0.02], "labels": false, "title": null}},
                    "y": {"field": "y", "type": "quantitative", "scale": {"domain": [-0.015, 0.015], "nice": false, "zero": false}, "axis": {"orient": "right", "values": [-0.015, -0.01, -0.005, 0, 0.005, 0.01, 0.015], "labels": false, "title": null}}
                  }
                }
              ],
              "resolve": {"axis": {"x": "independent", "y": "independent"}}
            }
          ]
        }
      ]
    },
    {
      "bounds": "flush",
      "spacing": 142,
      "hconcat": [
        {
          "width": 392,
          "height": 313,
          "title": {"text": "c) Axis trajectory", "orient": "bottom", "anchor": "middle", "frame": "group", "offset": 30, "dx": -18, "baseline": "alphabetic"},
          "layer": [
            {
              "layer": [
                {
                  "data": {"name": "orbit"},
                  "transform": [{"filter": {"field": "s", "oneOf": ["L1", "L2", "L3", "L4", "L5", "L6"]}}],
                  "mark": {"type": "line", "interpolate": "cardinal-closed", "strokeWidth": 3.2, "color": "#000", "strokeJoin": "round"},
                  "encoding": {
                    "x": {"field": "x", "type": "quantitative", "scale": {"domain": [-0.02, 0.02], "nice": false, "zero": false},
                          "axis": {"orient": "bottom", "values": [-0.02, -0.01, 0, 0.01, 0.02], "labelExpr": "replace(format(datum.value, '~g'), '−', '-')", "title": "Xₚ₂", "titleY": 46, "titleBaseline": "alphabetic"}},
                    "y": {"field": "y", "type": "quantitative", "scale": {"domain": [-0.02, 0.01], "nice": false, "zero": false},
                          "axis": {"orient": "left", "values": [-0.02, -0.01, 0, 0.01], "labelExpr": "replace(format(datum.value, '~g'), '−', '-')", "labelPadding": 10, "title": "Yₚ₂", "titleX": -38, "titleY": 161, "titleBaseline": "alphabetic", "titleAngle": 270}},
                    "detail": {"field": "s"},
                    "order": {"field": "i"}
                  }
                },
                {
                  "data": {"name": "orbit"},
                  "transform": [{"filter": {"field": "s", "oneOf": ["S", "N1", "N2", "N3"]}}],
                  "mark": {"type": "line", "interpolate": "cardinal", "strokeWidth": 3.2, "color": "#000", "strokeCap": "round"},
                  "encoding": {"x": {"field": "x", "type": "quantitative"}, "y": {"field": "y", "type": "quantitative"}, "detail": {"field": "s"}, "order": {"field": "i"}}
                },
                {
                  "data": {"name": "orbit"},
                  "transform": [{"filter": {"field": "s", "oneOf": ["D", "Z1", "Z2"]}}],
                  "mark": {"type": "line", "interpolate": "linear", "strokeWidth": 3.2, "color": "#000", "strokeCap": "round", "strokeJoin": "round"},
                  "encoding": {"x": {"field": "x", "type": "quantitative"}, "y": {"field": "y", "type": "quantitative"}, "detail": {"field": "s"}, "order": {"field": "i"}}
                }
              ]
            },
            {
              "data": {"values": [{"x": 0, "y": 0}]},
              "mark": {"type": "point", "opacity": 0},
              "encoding": {
                "x": {"field": "x", "type": "quantitative", "scale": {"domain": [-0.02, 0.02], "nice": false, "zero": false}, "axis": {"orient": "top", "values": [-0.02, -0.01, 0, 0.01, 0.02], "labels": false, "title": null}},
                "y": {"field": "y", "type": "quantitative", "scale": {"domain": [-0.02, 0.01], "nice": false, "zero": false}, "axis": {"orient": "right", "values": [-0.02, -0.01, 0, 0.01], "labels": false, "title": null}}
              }
            }
          ],
          "resolve": {"axis": {"x": "independent", "y": "independent"}}
        },
        {
          "bounds": "flush",
          "spacing": 0,
          "vconcat": [
            {"width": 1, "height": 2, "data": {"values": [{"k": 0}]}, "mark": {"type": "point", "opacity": 0}},
            {
              "width": 390,
              "height": 323,
              "title": {"text": "d) Spectrum diagram", "orient": "bottom", "anchor": "middle", "frame": "group", "offset": 19, "dx": -33, "baseline": "alphabetic"},
              "layer": [
                {
                  "data": {"name": "spectrum"},
                  "mark": {"type": "line", "strokeWidth": 1, "color": "#222"},
                  "encoding": {
                    "x": {"field": "f", "type": "quantitative", "scale": {"domain": [0, 5], "nice": false, "zero": false},
                          "axis": {"orient": "bottom", "values": [0, 1, 2, 3, 4, 5], "format": "~g", "title": "λ", "titleFontSize": 24, "titleY": 41, "titleBaseline": "alphabetic"}},
                    "y": {"field": "a", "type": "quantitative", "scale": {"domain": [0, 0.01], "nice": false, "zero": false},
                          "axis": {"orient": "left", "values": [0, 0.002, 0.004, 0.006, 0.008, 0.01], "format": "~g", "labelPadding": 9, "title": "Xₚ₂", "titleX": -61, "titleY": 165, "titleBaseline": "alphabetic", "titleAngle": 270}}
                  }
                },
                {
                  "data": {"values": [{"f": 0, "a": 0}]},
                  "mark": {"type": "point", "opacity": 0},
                  "encoding": {
                    "x": {"field": "f", "type": "quantitative", "scale": {"domain": [0, 5], "nice": false, "zero": false}, "axis": {"orient": "top", "values": [0, 1, 2, 3, 4, 5], "labels": false, "title": null}},
                    "y": {"field": "a", "type": "quantitative", "scale": {"domain": [0, 0.01], "nice": false, "zero": false}, "axis": {"orient": "right", "values": [0, 0.002, 0.004, 0.006, 0.008, 0.01], "labels": false, "title": null}}
                  }
                }
              ],
              "resolve": {"axis": {"x": "independent", "y": "independent"}}
            }
          ]
        }
      ]
    }
  ]
}
